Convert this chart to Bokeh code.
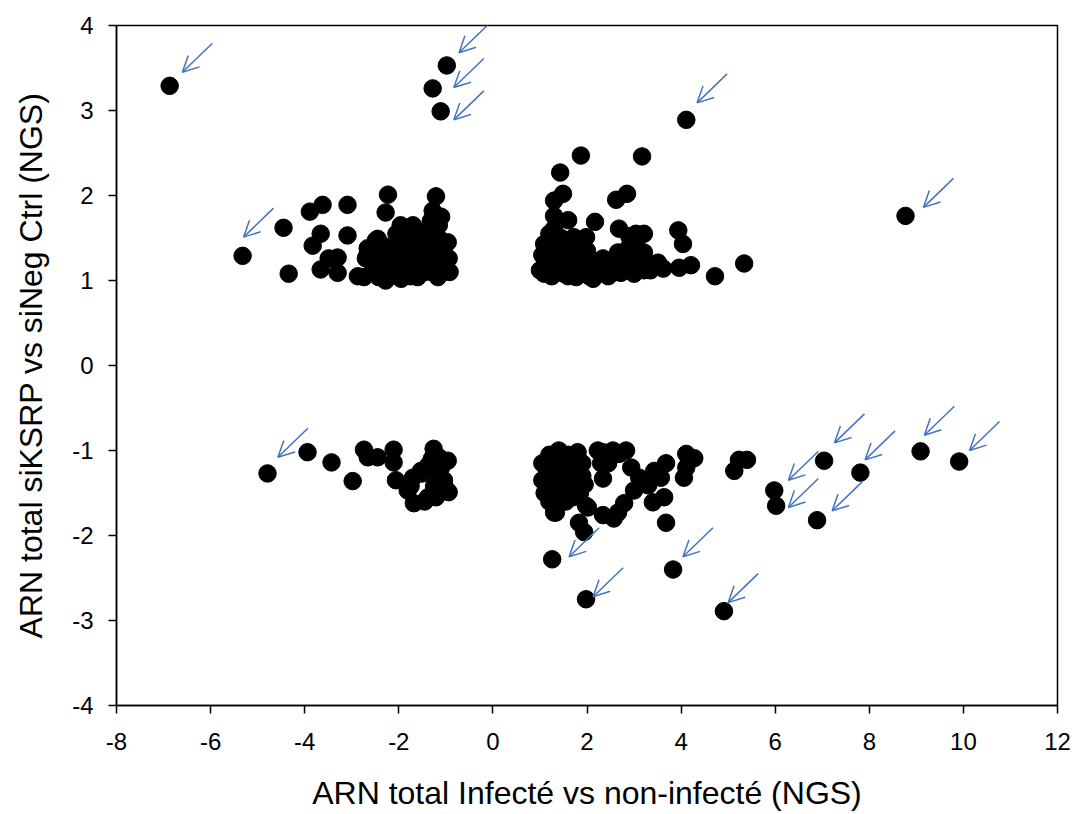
from bokeh.plotting import figure
from bokeh.models import (Range1d, SingleIntervalTicker, ColumnDataSource, Arrow, OpenHead,
                          CustomJSTickFormatter)
from bokeh.embed import file_html
from bokeh.resources import INLINE

# ---- data ----
ul_x = [-6.87, -0.98, -1.28, -1.11,
        -5.32, -4.45, -4.34, -3.89, -3.62, -3.66, -3.83, -3.66, -3.49, -3.30, -3.30, -3.09, -3.09,
        -2.87, -2.66, -2.70, -2.45, -2.23, -2.28, -2.43, -2.45, -2.11, -2.11, -1.96, -1.70, -1.81,
        -1.53, -1.60, -1.21, -1.28, -1.15, -0.96, -0.94, -1.17, -1.26, -1.47, -1.38,
        -2.55, -2.35, -2.20, -2.00, -1.90, -1.85, -1.75, -1.65, -1.55, -1.45, -1.40, -1.35, -1.30,
        -1.25, -1.20, -1.10, -1.05, -1.00, -1.18, -1.65, -2.05, -1.95, -1.75, -2.30, -1.50, -1.10,
        -1.32, -0.92, -2.49, -2.66, -2.74, -2.28]
ul_y = [3.29, 3.53, 3.26, 2.99,
        1.29, 1.62, 1.08, 1.81, 1.89, 1.55, 1.41, 1.13, 1.26, 1.27, 1.09, 1.89, 1.53,
        1.05, 1.38, 1.26, 1.49, 2.01, 1.80, 1.04, 1.20, 1.27, 1.06, 1.65, 1.65, 1.47,
        1.20, 1.04, 1.99, 1.82, 1.65, 1.45, 1.26, 1.04, 1.32, 1.51, 1.32,
        1.12, 1.30, 1.15, 1.38, 1.10, 1.25, 1.35, 1.15, 1.45, 1.10, 1.25, 1.60, 1.10,
        1.45, 1.25, 1.15, 1.38, 1.20, 1.52, 1.55, 1.55, 1.02, 1.05, 1.40, 1.35, 1.75,
        1.70, 1.10, 1.47, 1.32, 1.04, 1.00]

ur_x = [4.11, 8.77,
        1.87, 3.17, 1.43, 1.49, 1.30, 2.85, 2.62, 1.30, 1.60, 1.30, 2.17, 1.98, 1.72, 2.68, 3.04,
        3.21, 3.94, 4.04, 1.09, 1.17, 1.51, 2.66, 2.34, 3.21, 3.51, 3.62, 3.96, 4.21, 4.72, 5.34,
        1.09, 1.30, 1.51, 1.77, 2.13, 2.02, 2.72, 3.00, 3.21,
        1.15, 1.25, 1.40, 1.45, 1.55, 1.65, 1.70, 1.80, 1.85, 1.90, 2.05, 2.25, 2.45, 2.55, 2.80,
        2.90, 2.95, 3.10, 3.35, 2.60, 1.35, 1.20, 1.00, 1.05, 1.60, 2.00, 3.05, 2.90, 3.30]
ur_y = [2.89, 1.76,
        2.47, 2.46, 2.27, 2.02, 1.94, 2.02, 1.95, 1.76, 1.71, 1.61, 1.69, 1.51, 1.51, 1.61, 1.55,
        1.55, 1.59, 1.43, 1.43, 1.32, 1.39, 1.33, 1.26, 1.33, 1.21, 1.14, 1.15, 1.18, 1.05, 1.20,
        1.08, 1.18, 1.08, 1.04, 1.02, 1.21, 1.09, 1.08, 1.12,
        1.20, 1.05, 1.25, 1.50, 1.20, 1.30, 1.15, 1.40, 1.08, 1.25, 1.05, 1.12, 1.05, 1.20, 1.25,
        1.40, 1.15, 1.25, 1.12, 1.10, 1.40, 1.55, 1.12, 1.30, 1.05, 1.35, 1.48, 1.52, 1.20]

ll_x = [-4.79, -3.94, -3.43, -2.98, -2.74, -2.66, -2.45, -2.11, -2.11, -2.06, -1.81, -1.68,
        -1.70, -1.53, -1.38, -1.21, -1.26, -1.15, -0.96, -1.04, -0.94, -1.38, -1.17,
        -1.75, -1.25, -1.50, -1.45, -1.30, -1.10, -1.00]
ll_y = [-1.27, -1.02, -1.14, -1.36, -0.99, -1.08, -1.08, -0.99, -1.14, -1.35, -1.47, -1.62,
        -1.32, -1.24, -1.55, -1.55, -0.98, -1.08, -1.12, -1.35, -1.49, -1.18, -1.27,
        -1.42, -1.42, -1.27, -1.60, -1.10, -1.20, -1.45]

lr_x = [1.26, 1.98, 3.83, 4.91,
        7.04, 7.81, 9.09, 9.91, 6.89, 5.98, 6.02, 5.13, 5.23, 5.40,
        1.30, 1.98, 1.83, 1.94, 2.34, 2.55, 2.68, 2.45, 2.34, 2.94, 3.11, 3.30, 3.43, 3.68, 3.57,
        3.00, 2.79, 2.66, 2.34, 2.57, 3.40, 3.64, 3.68, 4.11, 4.28, 4.06, 4.11,
        1.05, 1.05, 1.10, 1.15, 1.20, 1.25, 1.30, 1.35, 1.40, 1.45, 1.50, 1.55, 1.60, 1.65, 1.70,
        1.75, 1.80, 1.85, 1.90, 1.95, 1.20, 1.55, 1.80, 1.40, 1.12, 1.70, 1.90, 1.35,
        2.23, 2.83, 2.30, 2.02, 1.34]
lr_y = [-2.28, -2.75, -2.40, -2.89,
        -1.12, -1.26, -1.01, -1.13, -1.82, -1.47, -1.65, -1.24, -1.11, -1.11,
        -1.73, -1.65, -1.85, -1.96, -1.02, -1.00, -1.04, -1.15, -1.33, -1.20, -1.32, -1.41, -1.24,
        -1.15, -1.32, -1.47, -1.62, -1.73, -1.76, -1.80, -1.61, -1.55, -1.85, -1.04, -1.09, -1.32,
        -1.20,
        -1.15, -1.35, -1.50, -1.25, -1.05, -1.40, -1.20, -1.55, -1.00, -1.30, -1.15, -1.45, -1.05,
        -1.25, -1.40, -1.10, -1.30, -1.50, -1.15, -1.40, -1.60, -1.60, -1.02, -1.45, -1.38, -1.55,
        -1.30, -1.10,
        -1.00, -1.00, -1.15, -1.67, -1.73]

# arrow tips (data coordinates of the pointed-at spots)
arrow_tip_x = [-6.60, -0.72, -0.83, -0.83, 4.34, 9.15, -5.30, -4.57, 1.62, 2.13, 4.04, 5.00,
               7.26, 7.91, 9.17, 10.13, 7.21, 6.28, 6.28]
arrow_tip_y = [3.45, 3.68, 3.27, 2.89, 3.09, 1.86, 1.51, -1.08, -2.25, -2.72, -2.25, -2.79,
               -0.91, -1.11, -0.82, -1.00, -1.71, -1.35, -1.67]

x_title = "ARN total Infecté vs non-infecté (NGS)"
y_title = "ARN total siKSRP vs siNeg Ctrl (NGS)"

# ---- layout ----
X0, X1, Y0, Y1 = -8, 12, -4, 4
FRAME_W, FRAME_H = 941, 680
W, H = 1071, 814
ML, MT = 116, 25
MR = W - ML - FRAME_W
MB = H - MT - FRAME_H

p = figure(width=W, height=H, x_range=Range1d(X0, X1), y_range=Range1d(Y0, Y1),
           output_backend="svg", toolbar_location=None,
           min_border_left=ML, min_border_right=MR, min_border_top=MT, min_border_bottom=MB)
p.background_fill_color = "white"
p.border_fill_color = "white"
p.grid.grid_line_color = None
p.outline_line_color = "black"
p.outline_line_width = 1.5
p.outline_line_alpha = 1.0

p.xaxis.ticker = SingleIntervalTicker(interval=2)
p.yaxis.ticker = SingleIntervalTicker(interval=1)
fmt = "return tick.toString();"
for ax in (p.xaxis, p.yaxis):
    ax.formatter = CustomJSTickFormatter(code=fmt)
    ax.minor_tick_line_color = None
    ax.major_tick_in = 0
    ax.major_tick_out = 8
    ax.major_tick_line_width = 1.5
    ax.major_tick_line_color = "black"
    ax.axis_line_width = 1.5
    ax.axis_line_color = "black"
    ax.major_label_text_font = "Liberation Sans"
    ax.major_label_text_font_size = "24px"
    ax.major_label_text_color = "black"
    ax.axis_label_text_font = "Liberation Sans"
    ax.axis_label_text_font_size = "32px"
    ax.axis_label_text_font_style = "normal"
    ax.axis_label_text_color = "black"
p.xaxis.axis_label = x_title
p.yaxis.axis_label = y_title
p.xaxis.major_label_standoff = 19
p.yaxis.major_label_standoff = 15
p.xaxis.axis_label_standoff = 22
p.yaxis.axis_label_standoff = 20

all_x = ul_x + ur_x + ll_x + lr_x
all_y = ul_y + ur_y + ll_y + lr_y
p.scatter(all_x, all_y, size=17.5, fill_color="black", line_color="black", marker="circle")

# arrows: fixed pixel length towards the upper right of each tip
dx = 30 * (X1 - X0) / FRAME_W
dy = 29 * (Y1 - Y0) / FRAME_H
src = ColumnDataSource(dict(
    xe=arrow_tip_x, ye=arrow_tip_y,
    xs=[v + dx for v in arrow_tip_x], ys=[v + dy for v in arrow_tip_y]))
blue = "#4472C4"
p.add_layout(Arrow(end=OpenHead(size=16, line_color=blue, line_width=1.5),
                   x_start="xs", y_start="ys", x_end="xe", y_end="ye",
                   source=src, line_color=blue, line_width=1.5))

open("out.html", "w").write(file_html(p, INLINE))
